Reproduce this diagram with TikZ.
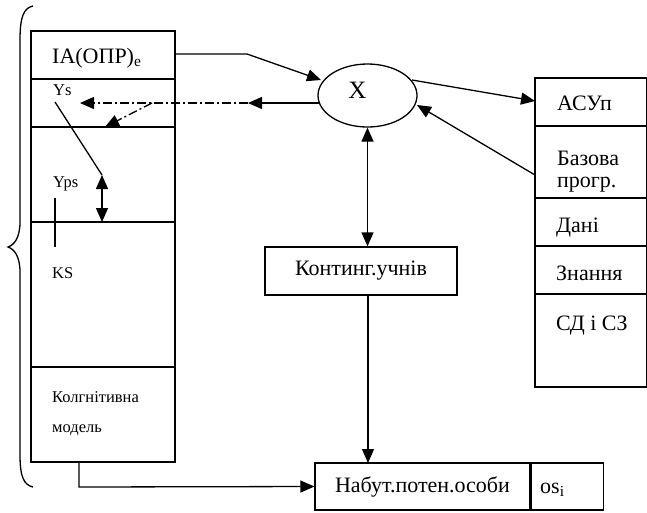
\documentclass[tikz,border=0pt]{standalone}
\usepackage{fontspec}
\setmainfont{Liberation Serif}
\usetikzlibrary{arrows.meta,shapes.geometric}
\begin{document}
\begin{tikzpicture}[x=1pt,y=-1pt,
  ln/.style={line width=1.3pt},
  tip/.style={-{Triangle[length=14pt,width=12pt]}},
  arr/.style={ln,tip},
  darr/.style={ln,{Triangle[length=14pt,width=12pt]}-{Triangle[length=14pt,width=12pt]}},
  dd/.style={ln,dash pattern=on 9pt off 3pt on 2pt off 3pt},
  big/.style={font=\fontsize{22}{23}\selectfont},
  small/.style={font=\fontsize{16.5}{18}\selectfont},
  lbl/.style={anchor=base west,inner sep=0pt}]
\useasboundingbox (0,0) rectangle (647,512);
% left column box
\draw[ln] (31,31) rectangle (175,462);
\foreach \yy in {79,127,222,367} \draw[ln] (31,\yy) -- (175,\yy);
\node[lbl,big] (ia) at (52,63) {IA(ОПР)\textsubscript{e}};
\node[lbl,small] (ys) at (53,95) {Ys};
\node[lbl,small] (yps) at (53,187) {Yps};
\node[lbl,small] (ks) at (52,278) {KS};
\node[lbl,small] (km1) at (52,402) {Колгнітивна};
\node[lbl,small] (km2) at (52,432) {модель};
\coordinate (iaR) at (175,54);
\coordinate (ysP) at (55,102);
\coordinate (bend) at (102,175);
\coordinate (d222) at (102,222);
\coordinate (ksT) at (55,198);
\coordinate (ksB) at (55,247);
\coordinate (lbot) at (79,462);
% brace
\draw[line width=1.3pt] (33,6) .. controls (24,8) and (20,16) .. (20,40)
  -- (20,222) .. controls (20,238) and (14,245) .. (8,247)
  .. controls (14,249) and (20,256) .. (20,272)
  -- (20,455) .. controls (20,477) and (24,485) .. (33,487);
% ellipse
\node[draw,ln,ellipse,minimum width=99pt,minimum height=63pt,inner sep=0pt] (x) at (367.5,95.5) {};
\node[font=\fontsize{25}{26}\selectfont,inner sep=0pt] (xl) at (357.5,90) {X};
% right box
\draw[ln] (535,78) rectangle (647,387);
\foreach \yy in {126,198,246,294} \draw[ln] (535,\yy) -- (647,\yy);
\node[lbl,big] (asu) at (557,110) {АСУп};
\node[lbl,big] (baz1) at (557,165) {Базова};
\node[lbl,big] (baz2) at (557,187) {прогр.};
\node[lbl,big] (dani) at (556,232) {Дані};
\node[lbl,big] (zn) at (556,280) {Знання};
\node[lbl,big] (sd) at (556,330) {СД і СЗ};
\coordinate (asuL) at (535,101);
\coordinate (bazL) at (535,175);
% kontyng box
\node[draw,ln,big,minimum width=192pt,minimum height=48pt,inner sep=0pt] (kont) at (361,271) {Континг.учнів};
% bottom box
\node[draw,ln,big,minimum width=215pt,minimum height=47pt,inner sep=0pt] (nab) at (422.5,486.5) {Набут.потен.особи};
\node[draw,ln,minimum width=72pt,minimum height=47pt,inner sep=0pt,anchor=west] (os) at (nab.east) {};
\node[lbl,big] (osl) at (540,493) {os\textsubscript{i}};
% connectors
\coordinate (xin) at (321,80);
\draw[arr] (iaR) -- (247,54) -- (xin);
\coordinate (xL) at (319,103);
\coordinate (m1) at (248,103);
\coordinate (m2) at (80,103);
\coordinate (m3) at (152,103);
\coordinate (m4) at (105,127);
\draw[arr] (xL) -- (m1);
\draw[dd,tip] (m1) -- (m2);
\draw[dd,tip] (m3) -- (m4);
\draw[ln] (ysP) -- (bend);
\draw[darr] (bend) -- (d222);
\draw[ln] (ksT) -- (ksB);
\coordinate (xR) at (412,80);
\coordinate (xBR) at (417,105);
\draw[arr] (xR) -- (asuL);
\draw[arr] (bazL) -- (xBR);
\coordinate (kB) at (368,295);
\coordinate (nT) at (368,463);
\draw[darr] (x.south) -- (x.south |- kont.north);
\draw[arr] (kB) -- (nT);
\draw[arr] (lbot) -- (79,487) -- (nab.west);
\end{tikzpicture}
\end{document}
